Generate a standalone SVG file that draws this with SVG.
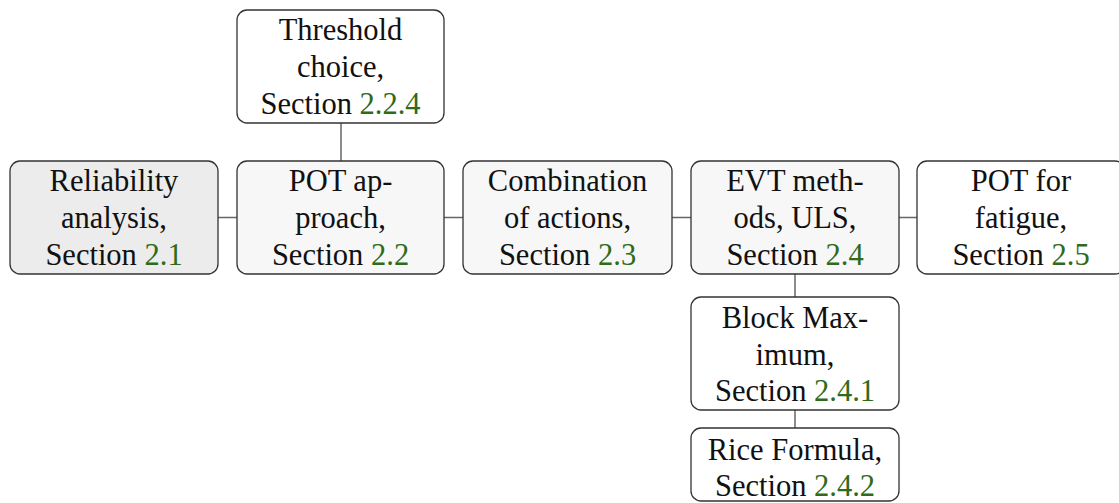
<svg xmlns="http://www.w3.org/2000/svg" width="1119" height="503" viewBox="0 0 1119 503">
<style>
.box{fill:#fff;stroke:#333;stroke-width:1.3}
.lt{fill:#f7f7f7}
.gray{fill:#ececec}
.t{font-family:"Liberation Serif",serif;font-size:30.5px;fill:#111;text-anchor:middle}
.ref{fill:#2f6b1b}
.c{stroke:#666;stroke-width:1.5;fill:none}
</style>
<rect width="1119" height="503" fill="#fff"/>
<g id="connectors">
<line class="c" x1="218" y1="217.5" x2="237" y2="217.5"/>
<line class="c" x1="444" y1="217.5" x2="463" y2="217.5"/>
<line class="c" x1="672" y1="217.5" x2="691" y2="217.5"/>
<line class="c" x1="899" y1="217.5" x2="917" y2="217.5"/>
<line class="c" x1="341" y1="123" x2="341" y2="162"/>
<line class="c" x1="795" y1="274" x2="795" y2="297"/>
<line class="c" x1="795" y1="410" x2="795" y2="428"/>
</g>
<g id="threshold">
<rect class="box" x="237" y="10" width="207" height="113" rx="10"/>
<text class="t" x="340.5" y="40">Threshold</text>
<text class="t" x="340.5" y="77">choice,</text>
<text class="t" x="340.5" y="114">Section <tspan class="ref">2.2.4</tspan></text>
</g>
<g id="reliability">
<rect class="box gray" x="10" y="161" width="208" height="113" rx="10"/>
<text class="t" x="114" y="191">Reliability</text>
<text class="t" x="114" y="228">analysis,</text>
<text class="t" x="114" y="265">Section <tspan class="ref">2.1</tspan></text>
</g>
<g id="pot">
<rect class="box lt" x="237" y="161" width="207" height="113" rx="10"/>
<text class="t" x="340.5" y="191">POT ap-</text>
<text class="t" x="340.5" y="228">proach,</text>
<text class="t" x="340.5" y="265">Section <tspan class="ref">2.2</tspan></text>
</g>
<g id="combination">
<rect class="box lt" x="463" y="161" width="209" height="113" rx="10"/>
<text class="t" x="567.5" y="191">Combination</text>
<text class="t" x="567.5" y="228">of actions,</text>
<text class="t" x="567.5" y="265">Section <tspan class="ref">2.3</tspan></text>
</g>
<g id="evt">
<rect class="box lt" x="691" y="161" width="208" height="113" rx="10"/>
<text class="t" x="795" y="191">EVT meth-</text>
<text class="t" x="795" y="228">ods, ULS,</text>
<text class="t" x="795" y="265">Section <tspan class="ref">2.4</tspan></text>
</g>
<g id="fatigue">
<rect class="box" x="917" y="161" width="208" height="113" rx="10"/>
<text class="t" x="1021" y="191">POT for</text>
<text class="t" x="1021" y="228">fatigue,</text>
<text class="t" x="1021" y="265">Section <tspan class="ref">2.5</tspan></text>
</g>
<g id="blockmax">
<rect class="box" x="691" y="297" width="208" height="113" rx="10"/>
<text class="t" x="795" y="328">Block Max-</text>
<text class="t" x="795" y="365">imum,</text>
<text class="t" x="795" y="401">Section <tspan class="ref">2.4.1</tspan></text>
</g>
<g id="rice">
<rect class="box" x="691" y="428" width="208" height="73" rx="10"/>
<text class="t" x="795" y="460">Rice Formula,</text>
<text class="t" x="795" y="496">Section <tspan class="ref">2.4.2</tspan></text>
</g>
</svg>
